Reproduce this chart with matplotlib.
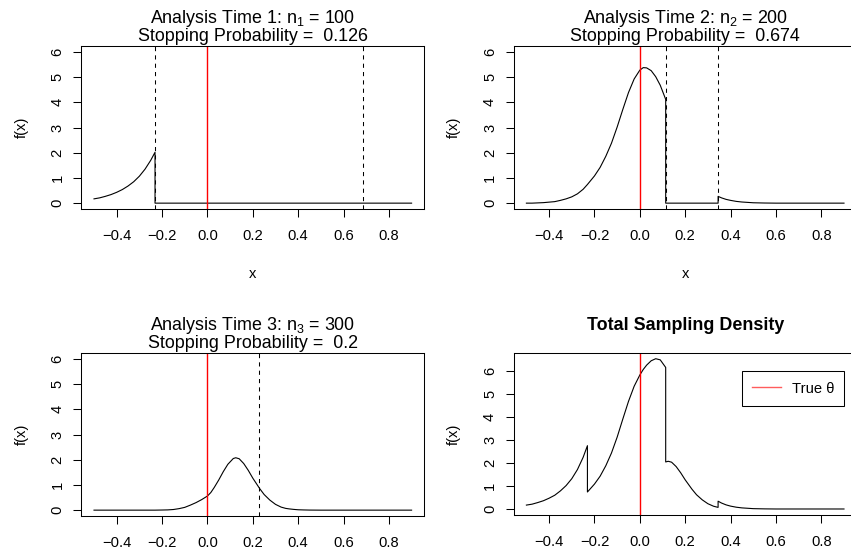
import numpy as np
import matplotlib
matplotlib.use("Agg")
import matplotlib.pyplot as plt

plt.rcParams['font.family'] = ['Liberation Sans', 'DejaVu Sans']
plt.rcParams['mathtext.fontset'] = 'custom'
plt.rcParams['mathtext.rm'] = 'Liberation Sans'

# sub-densities, on one shared x grid
# (an x repeats where a curve jumps at a stopping boundary)
x = [-0.500, -0.475, -0.450, -0.425, -0.400, -0.375, -0.350, -0.325, -0.300,
     -0.275, -0.250, -0.231, -0.231, -0.200, -0.175, -0.150, -0.125, -0.100,
     -0.075, -0.050, -0.025, 0.000, 0.015, 0.030, 0.050, 0.070, 0.090, 0.114,
     0.114, 0.125, 0.140, 0.160, 0.180, 0.200, 0.230, 0.250, 0.275, 0.300,
     0.325, 0.345, 0.345, 0.360, 0.380, 0.400, 0.425, 0.450, 0.500, 0.550,
     0.600, 0.700, 0.800, 0.900]
stage1 = [0.17, 0.21, 0.27, 0.34, 0.43, 0.54, 0.68, 0.85, 1.07,
          1.35, 1.70, 2.02, 0.00, 0.00, 0.00, 0.00, 0.00, 0.00,
          0.00, 0.00, 0.00, 0.00, 0.00, 0.00, 0.00, 0.00, 0.00, 0.00,
          0.00, 0.00, 0.00, 0.00, 0.00, 0.00, 0.00, 0.00, 0.00, 0.00,
          0.00, 0.00, 0.00, 0.00, 0.00, 0.00, 0.00, 0.00, 0.00, 0.00,
          0.00, 0.00, 0.00, 0.00]
stage2 = [0.00, 0.00, 0.01, 0.02, 0.04, 0.06, 0.11, 0.17, 0.25,
          0.37, 0.55, 0.74, 0.74, 1.08, 1.42, 1.86, 2.38, 3.02,
          3.72, 4.39, 4.93, 5.28, 5.38, 5.37, 5.26, 5.02, 4.68, 4.12,
          0.00, 0.00, 0.00, 0.00, 0.00, 0.00, 0.00, 0.00, 0.00, 0.00,
          0.00, 0.00, 0.27, 0.21, 0.15, 0.11, 0.07, 0.045, 0.015, 0.005,
          0.00, 0.00, 0.00, 0.00]
stage3 = [0.00, 0.00, 0.00, 0.00, 0.00, 0.00, 0.00, 0.00, 0.00,
          0.00, 0.00, 0.00, 0.00, 0.005, 0.01, 0.025, 0.06, 0.11,
          0.20, 0.30, 0.42, 0.56, 0.70, 0.90, 1.20, 1.53, 1.82, 2.05,
          2.05, 2.08, 2.04, 1.85, 1.58, 1.27, 0.86, 0.62, 0.40, 0.23,
          0.12, 0.07, 0.07, 0.05, 0.03, 0.015, 0.008, 0.003, 0.00, 0.00,
          0.00, 0.00, 0.00, 0.00]

sample_sizes = [100, 200, 300]
stop_probs = ['0.126', '0.674', '0.2']
boundaries = [[-0.231, 0.687], [0.114, 0.345], [0.229]]
true_theta = 0.0

total = np.array(stage1) + np.array(stage2) + np.array(stage3)

W, H = 851, 552
fig = plt.figure(figsize=(W / 100, H / 100), dpi=100)

def axes_px(left, top, width, height):
    return fig.add_axes([left / W, 1 - (top + height) / H, width / W, height / H])

tick_fs = 10.6
title_fs = 12.9
lw = 0.8

def style(ax, ymax, xlabel=True):
    ax.set_xlim(-0.556, 0.956)
    ax.set_ylim(-0.04 * ymax, 1.04 * ymax)
    ax.set_xticks([-0.4, -0.2, 0.0, 0.2, 0.4, 0.6, 0.8])
    ax.set_yticks(range(7))
    ax.tick_params(direction='out', length=6, width=0.75, labelsize=tick_fs)
    ax.tick_params(axis='x', pad=8.5)
    ax.tick_params(axis='y', pad=6, labelrotation=90)
    for lab in ax.get_yticklabels():
        lab.set_va('center')
    for sp in ax.spines.values():
        sp.set_linewidth(0.75)
    # bottom row x labels fall outside the picture in the reference
    if xlabel:
        ax.set_xlabel('x', fontsize=tick_fs, labelpad=17)
    ax.set_ylabel('f(x)', fontsize=tick_fs, labelpad=16)

def title(ax, text, dy, bold=False):
    ax.annotate(text, (0.5, 1), xycoords='axes fraction', xytext=(0, dy * 0.72),
                textcoords='offset points', ha='center', va='center',
                fontsize=title_fs, fontweight='bold' if bold else 'normal',
                linespacing=0.95)

lefts = [81.3, 513.7, 81.3]
tops = [45.7, 45.7, 352.7]
stages = [stage1, stage2, stage3]

for i in range(3):
    ax = axes_px(lefts[i], tops[i], 343, 163.5)
    ax.plot(x, stages[i], color='black', lw=lw)
    for b in boundaries[i]:
        ax.axvline(b, color='black', lw=0.75, ls=(0, (4, 4)))
    ax.axvline(true_theta, color='red', lw=1.0)
    style(ax, 6.01, xlabel=(i < 2))
    title(ax, 'Analysis Time %d: $\\mathregular{n_%d}$ = %d\nStopping Probability =  %s'
          % (i + 1, i + 1, sample_sizes[i], stop_probs[i]), 19.5)

ax = axes_px(513.7, 352.7, 343, 162.3)
ax.plot(x, total, color='black', lw=lw)
ax.axvline(true_theta, color='red', lw=1.0, label='True θ')
style(ax, total.max(), xlabel=False)
title(ax, 'Total Sampling Density', 27.7, bold=True)
leg = ax.legend(loc='upper left', bbox_to_anchor=(0.449, 6.0), bbox_transform=ax.transData,
                fontsize=tick_fs, frameon=True, fancybox=False, edgecolor='black',
                framealpha=1, borderaxespad=0, borderpad=0.7, handlelength=1.95,
                handletextpad=0.75)
leg.get_frame().set_linewidth(0.75)
leg.get_lines()[0].set_color('#ff5c5c')

fig.savefig('out.png', dpi=100)
